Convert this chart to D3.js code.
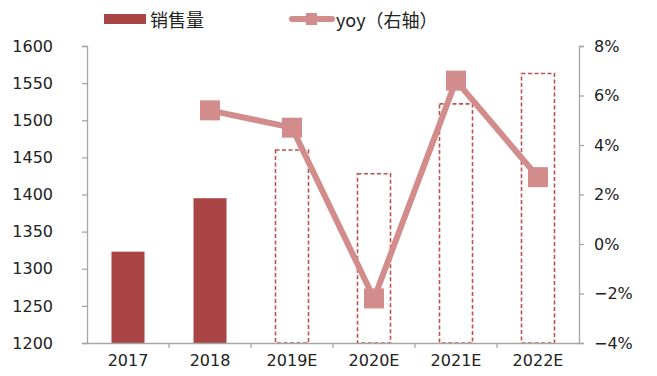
<!DOCTYPE html>
<html><head><meta charset="utf-8">
<script src="https://cdn.jsdelivr.net/npm/d3@7"></script>
<style>
html,body{margin:0;padding:0;background:#fff;}
svg{display:block;}
</style></head>
<body>
<svg id="chart" width="657" height="376"></svg>
<script>
// Sales volume (left axis) and year-over-year growth (right axis)
const categories = ["2017", "2018", "2019E", "2020E", "2021E", "2022E"];
const sales = [1323, 1395, 1460, 1428, 1522, 1563];
const forecast = [false, false, true, true, true, true];
const yoy = [null, 5.4, 4.7, -2.2, 6.6, 2.7];
const leftTicks = [1200, 1250, 1300, 1350, 1400, 1450, 1500, 1550, 1600];
const rightTicks = [-4, -2, 0, 2, 4, 6, 8];

const svg = d3.select("#chart");
const m = {left: 87, right: 579, top: 46, bottom: 343};
const font = "'DejaVu Sans', sans-serif";
const axisColor = "#a6a6a6";
const barColor = "#a94545";
const lineColor = "#d38c8c";
const dashColor = "#c0504d";

const band = d3.scaleBand().domain(categories).range([m.left, m.right]);
const yL = d3.scaleLinear().domain([1200, 1600]).range([m.bottom, m.top]);
const yR = d3.scaleLinear().domain([-4, 8]).range([m.bottom, m.top]);

// bars: solid for actuals, dashed outline for forecasts
svg.append("g").selectAll("rect").data(categories).join("rect")
  .attr("x", (d) => band(d) + band.bandwidth() / 2 - 16.5)
  .attr("width", 33)
  .attr("y", (d, i) => yL(sales[i]))
  .attr("height", (d, i) => yL(1200) - yL(sales[i]))
  .attr("fill", (d, i) => forecast[i] ? "none" : barColor)
  .attr("stroke", (d, i) => forecast[i] ? dashColor : "none")
  .attr("stroke-width", 1.6)
  .attr("stroke-dasharray", (d, i) => forecast[i] ? "4,2.5" : null);

// axes
const leftAxis = d3.axisLeft(yL).tickValues(leftTicks).tickSize(5).tickPadding(29).tickFormat(d3.format("d"));
const gL = svg.append("g").attr("transform", `translate(${m.left},0)`).call(leftAxis);

const rightAxis = d3.axisRight(yR).tickValues(rightTicks).tickSize(5).tickPadding(10)
  .tickFormat((d) => (d < 0 ? "\u2212" + Math.abs(d) : d) + "%");
const gR = svg.append("g").attr("transform", `translate(${m.right},0)`).call(rightAxis);

const bottomAxis = d3.axisBottom(band).tickSize(0).tickPadding(12);
const gB = svg.append("g").attr("transform", `translate(0,${m.bottom})`).call(bottomAxis);
// category separators on the x axis
svg.append("g").selectAll("line").data(categories.slice(1)).join("line")
  .attr("x1", (d) => band(d)).attr("x2", (d) => band(d))
  .attr("y1", m.bottom).attr("y2", m.bottom + 5)
  .attr("stroke", axisColor).attr("stroke-width", 1.3);

[gL, gR, gB].forEach((g) => {
  g.select(".domain").attr("stroke", axisColor).attr("stroke-width", 1.3);
  g.selectAll(".tick line").attr("stroke", axisColor).attr("stroke-width", 1.3);
  g.selectAll(".tick text").attr("fill", "#222").style("font-family", font).style("font-size", "16px");
});

// yoy line with square markers
const pts = categories.map((c, i) => ({c, v: yoy[i]})).filter((p) => p.v !== null);
const line = d3.line().x((p) => band(p.c) + band.bandwidth() / 2).y((p) => yR(p.v));
svg.append("path").datum(pts).attr("d", line)
  .attr("fill", "none").attr("stroke", lineColor).attr("stroke-width", 6).attr("stroke-linejoin", "round");
svg.append("g").selectAll("rect").data(pts).join("rect")
  .attr("x", (p) => band(p.c) + band.bandwidth() / 2 - 10)
  .attr("y", (p) => yR(p.v) - 10)
  .attr("width", 20).attr("height", 20)
  .attr("fill", lineColor);

// legend
const lg = svg.append("g");
lg.append("rect").attr("x", 104).attr("y", 14).attr("width", 42).attr("height", 10).attr("fill", barColor);
lg.append("text").attr("x", 150).attr("y", 27).text("销售量")
  .style("font-family", "'Noto Sans CJK SC', sans-serif").style("font-size", "18px").attr("fill", "#222");
lg.append("line").attr("x1", 292).attr("x2", 332).attr("y1", 19).attr("y2", 19)
  .attr("stroke", lineColor).attr("stroke-width", 6).attr("stroke-linecap", "round");
lg.append("rect").attr("x", 306).attr("y", 13).attr("width", 11).attr("height", 12).attr("fill", lineColor);
lg.append("text").attr("x", 336).attr("y", 27).text("yoy（右轴）")
  .style("font-family", "'Noto Sans CJK SC', sans-serif").style("font-size", "18px").attr("fill", "#222");
</script>
</body></html>
